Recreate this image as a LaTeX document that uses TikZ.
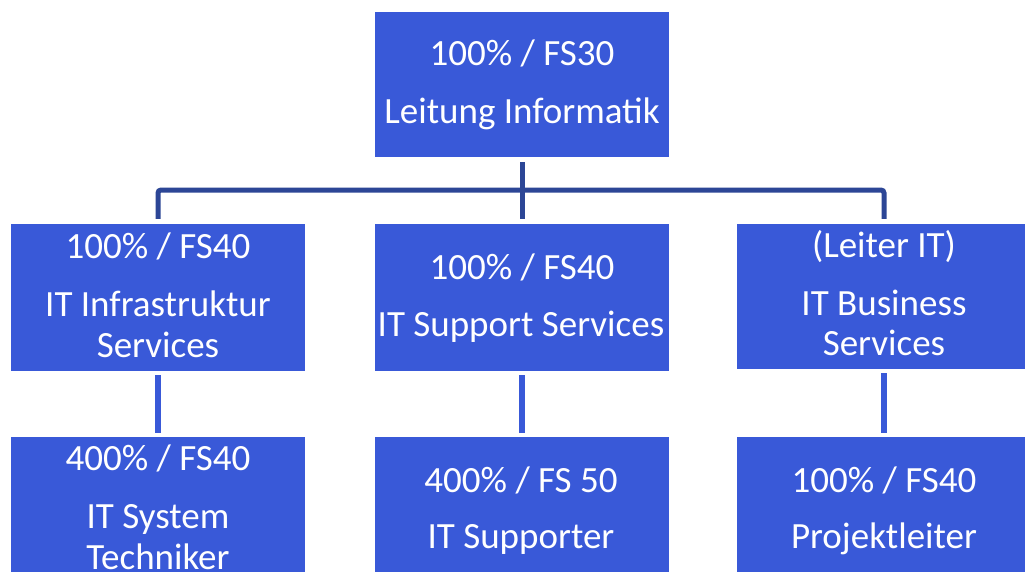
\documentclass[tikz,border=0pt]{standalone}
\usepackage{fontspec}
\setmainfont{Carlito}
\definecolor{boxblue}{RGB}{57,89,216}
\definecolor{busnavy}{RGB}{44,70,150}
\begin{document}
\begin{tikzpicture}[x=1pt,y=-1pt,
  orgbox/.style={fill=boxblue,draw=none,inner sep=0pt,minimum width=294pt,minimum height=#1},
  orgbox/.default=146pt,
  txt/.style={anchor=base,text=white,inner sep=0pt,font=\fontsize{37}{44}\selectfont},
  bus/.style={draw=busnavy,line width=5pt,rounded corners=3pt,shorten <=5pt,shorten >=5pt},
  link/.style={draw=boxblue,line width=5.5pt,shorten <=4pt,shorten >=4pt}]
\clip (0,0) rectangle (1025,571);
\fill[white] (0,0) rectangle (1025,571);
% boxes
\node[orgbox=145pt] (top) at (522,84.5) {};
\node[orgbox=147pt] (ml) at (158,297.5) {};
\node[orgbox=147pt] (mm) at (522,297.5) {};
\node[orgbox=145pt] (mr) at (884,296.5) {};
\node[orgbox=160pt] (bl) at (158,517) {};
\node[orgbox=160pt] (bm) at (522,517) {};
\node[orgbox=160pt] (br) at (884,517) {};
\coordinate (busc) at (522,190);
% connectors
\draw[bus] (top.south) -- (mm.north);
\draw[bus] (ml.north) |- (busc) -| (mr.north);
\draw[link] (ml.south) -- (bl.north);
\draw[link] (mm.south) -- (bm.north);
\draw[link] (mr.south) -- (br.north);
% texts
\node[txt] (t1) at (522,65) {100\% / FS30};
\node[txt] (t2) at (522,123) {Leitung Informatik};
\node[txt] (ml1) at (158,258) {100\% / FS40};
\node[txt] (ml2) at (158,316) {IT Infrastruktur};
\node[txt] (ml3) at (158,357) {Services};
\node[txt] (mm1) at (522,279) {100\% / FS40};
\node[txt] (mm2) at (521,336) {IT Support Services};
\node[txt] (mr1) at (884,257) {(Leiter IT)};
\node[txt] (mr2) at (884,315) {IT Business};
\node[txt] (mr3) at (884,355) {Services};
\node[txt] (bl1) at (158,470) {400\% / FS40};
\node[txt] (bl2) at (158,528) {IT System};
\node[txt] (bl3) at (158,569) {Techniker};
\node[txt] (bm1) at (521,492) {400\% / FS 50};
\node[txt] (bm2) at (521,548) {IT Supporter};
\node[txt] (br1) at (884,492) {100\% / FS40};
\node[txt] (br2) at (884,548) {Projektleiter};
\end{tikzpicture}
\end{document}
